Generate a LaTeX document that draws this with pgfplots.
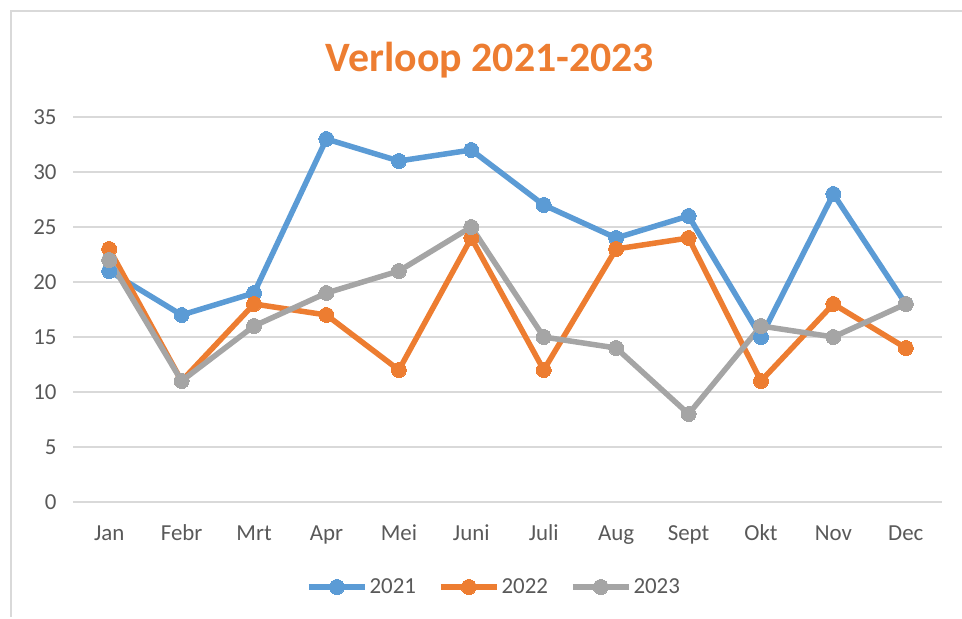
\documentclass[border=0pt]{standalone}
\usepackage{fontspec}
\setmainfont{Carlito}
\usepackage{pgfplots}
\pgfplotsset{compat=1.18}
\definecolor{c2021}{RGB}{91,155,213}
\definecolor{c2022}{RGB}{237,125,49}
\definecolor{c2023}{RGB}{165,165,165}
\definecolor{gridgray}{RGB}{217,217,217}
\definecolor{labelgray}{RGB}{89,89,89}
\begin{document}
\begin{tikzpicture}[x=1bp,y=1bp]
\path[use as bounding box] (0,0) rectangle (962,619);
\draw[gridgray, line width=2bp] (10.5,2) -- (10.5,608) -- (962,608);
\node[text=c2022, font=\fontsize{42}{50}\selectfont\bfseries] at (490,559) {Verloop 2021-2023};
\begin{axis}[
  at={(73bp,117bp)}, anchor=south west,
  width=869bp, height=385bp, scale only axis,
  xmin=-0.5, xmax=11.5, ymin=0, ymax=35,
  xtick={0,...,11},
  xticklabels={Jan,Febr,Mrt,Apr,Mei,Juni,Juli,Aug,Sept,Okt,Nov,Dec},
  ytick={0,5,...,35},
  axis line style={draw=none},
  major tick length=0pt,
  ymajorgrids, grid style={gridgray, line width=2bp},
  /pgf/number format/assume math mode=true,
  tick label style={font=\fontsize{23}{27}\selectfont, text=labelgray},
  yticklabel style={xshift=-13bp},
  xticklabel style={anchor=base, yshift=-39bp},
  legend style={at={(0.4845,-0.2208)}, anchor=center, draw=none, legend columns=3,
    font=\fontsize{23}{27}\selectfont, text=labelgray,
    /tikz/every even column/.append style={column sep=20bp},
    inner sep=0pt},
  legend cell align=left,
  legend image code/.code={\draw[mark repeat=2,mark phase=2,#1] plot coordinates {(0bp,0bp) (28bp,0bp) (56bp,0bp)};},
]
\addplot[c2021, line width=5.5bp, mark=*, mark size=7.5bp, mark options={line width=0bp, fill=c2021}] coordinates {(0,21) (1,17) (2,19) (3,33) (4,31) (5,32) (6,27) (7,24) (8,26) (9,15) (10,28) (11,18)};
\addplot[c2022, line width=5.5bp, mark=*, mark size=7.5bp, mark options={line width=0bp, fill=c2022}] coordinates {(0,23) (1,11) (2,18) (3,17) (4,12) (5,24) (6,12) (7,23) (8,24) (9,11) (10,18) (11,14)};
\addplot[c2023, line width=5.5bp, mark=*, mark size=7.5bp, mark options={line width=0bp, fill=c2023}] coordinates {(0,22) (1,11) (2,16) (3,19) (4,21) (5,25) (6,15) (7,14) (8,8) (9,16) (10,15) (11,18)};
\legend{2021,2022,2023}
\end{axis}
\end{tikzpicture}
\end{document}
